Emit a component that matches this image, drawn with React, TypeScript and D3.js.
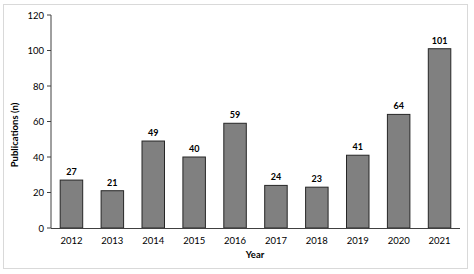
import React from "react";
import * as d3 from "d3";

const years = ["2012", "2013", "2014", "2015", "2016", "2017", "2018", "2019", "2020", "2021"];
const publications = [27, 21, 49, 40, 59, 24, 23, 41, 64, 101];
const yTicks = [0, 20, 40, 60, 80, 100, 120];

const W = 474;
const H = 274;
const FONT = "Lato, 'Open Sans', 'Liberation Sans', sans-serif";

export default function App() {
  const x = d3.scaleBand<string>().domain(years).range([51, 460]).paddingInner(0.45).paddingOuter(0.225);
  const y = d3.scaleLinear().domain([0, 120]).range([228, 15]);
  return (
    <svg width={W} height={H} style={{ position: "absolute", left: 0, top: 0, background: "#fff" }}>
      <rect x={3.5} y={4.5} width={464} height={264} fill="#fff" stroke="#d9d9d9" strokeWidth={1} />
      {years.map((yr, i) => (
        <g key={yr}>
          <rect
            x={x(yr)}
            y={y(publications[i])}
            width={x.bandwidth()}
            height={y(0) - y(publications[i])}
            fill="#808080"
            stroke="#262626"
            strokeWidth={1}
          />
          <text
            x={(x(yr) as number) + x.bandwidth() / 2}
            y={y(publications[i]) - 5}
            textAnchor="middle"
            fontFamily={FONT}
            fontWeight="bold"
            fontSize={9}
            fill="#000"
          >
            {publications[i]}
          </text>
          <text
            x={(x(yr) as number) + x.bandwidth() / 2}
            y={244}
            textAnchor="middle"
            fontFamily={FONT}
            fontSize={9.5}
            fill="#000"
          >
            {yr}
          </text>
        </g>
      ))}
      <line x1={51} x2={51} y1={15} y2={228} stroke="#404040" strokeWidth={1} />
      <line x1={51} x2={460} y1={228.5} y2={228.5} stroke="#404040" strokeWidth={1} />
      {yTicks.map((t) => (
        <g key={t}>
          <line x1={47} x2={51} y1={y(t)} y2={y(t)} stroke="#404040" strokeWidth={1} />
          <text x={44} y={y(t) + 3.5} textAnchor="end" fontFamily={FONT} fontSize={9.5} fill="#000">
            {t}
          </text>
        </g>
      ))}
      <text x={255} y={258} textAnchor="middle" fontFamily={FONT} fontWeight="bold" fontSize={9.5} fill="#000">
        Year
      </text>
      <text
        transform={`translate(18,135) rotate(-90)`}
        textAnchor="middle"
        fontFamily={FONT}
        fontWeight="bold"
        fontSize={9.5}
        fill="#000"
      >
        Publications (n)
      </text>
    </svg>
  );
}
